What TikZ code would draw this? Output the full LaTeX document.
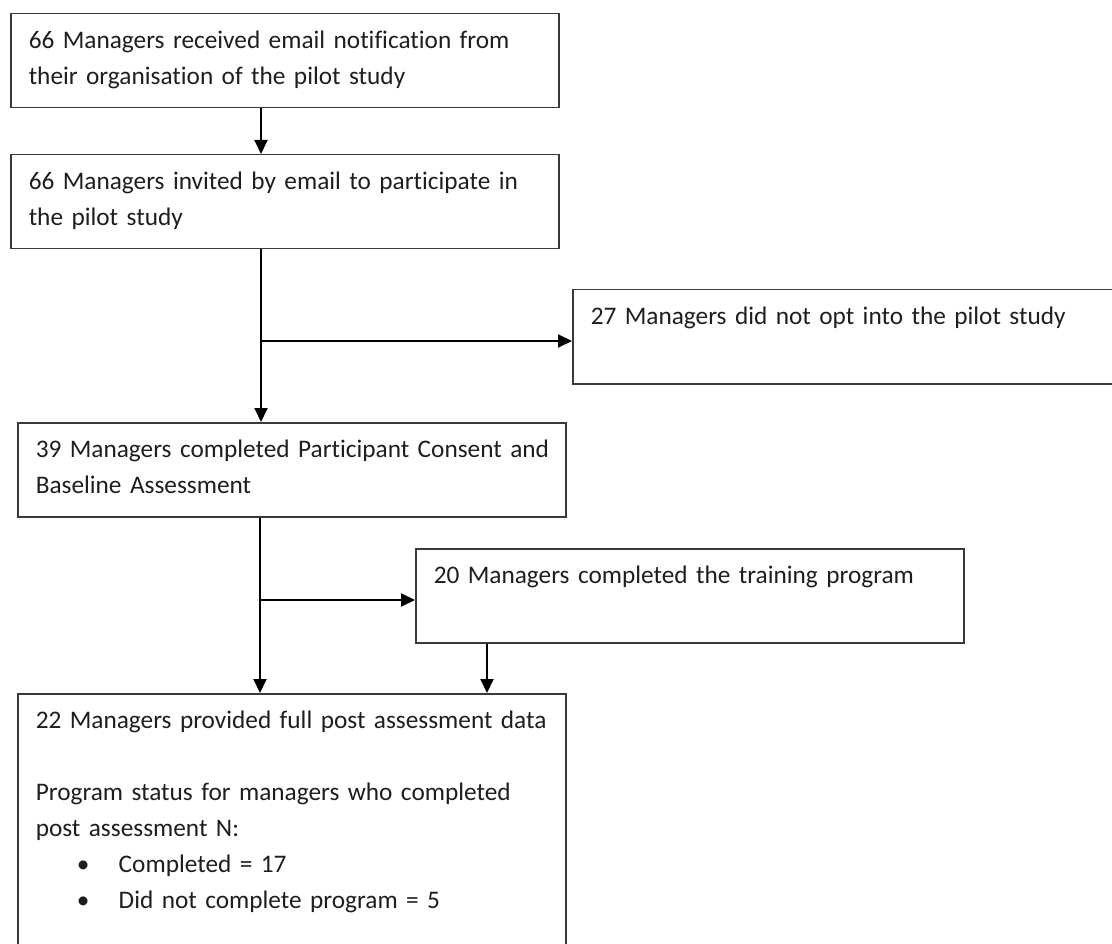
\documentclass[tikz,border=0pt]{standalone}
\usepackage{fontspec}
\setmainfont{Carlito}[Ligatures=NoCommon, WordSpace=0.85]
\usetikzlibrary{arrows.meta}
\definecolor{ink}{HTML}{1E1E1E}
\definecolor{edge}{HTML}{3A3A3A}
\newcommand{\bul}{\hspace*{41pt}\makebox[42pt][l]{•}}

\begin{document}
\begin{tikzpicture}[
  x=1pt, y=-1pt,
  font=\fontsize{25.3}{36}\selectfont,
  every node/.style={text=ink},
  box/.style={draw=edge, line width=1.5pt, anchor=north west, align=left,
              inner xsep=18pt, inner ysep=0pt, text width=512pt,
              text height=35pt, text depth=59pt},
  tallbox/.style={box, text depth=224pt},
  arr/.style={-{Triangle[length=14pt, width=13pt]}, line width=2pt, draw=black},
]
\useasboundingbox (0,0) rectangle (1112,944);
\node[box] (notif) at (10,13) {66 Managers received email notification from\\their organisation of the pilot study};
\node[box] (invite) at (10,154) {66 Managers invited by email to participate in\\the pilot study};
\node[box] (optout) at (572,289) {27 Managers did not opt into the pilot study};
\node[box] (consent) at (17,422) {\mbox{39 Managers completed Participant Consent and}\\Baseline Assessment};
\node[box] (train) at (415,548) {20 Managers completed the training program};
\node[tallbox] (post) at (17,693) {22 Managers provided full post assessment data\\[36pt]Program status for managers who completed\\post assessment N:\\\bul Completed = 17\\\bul Did not complete program = 5};
\coordinate (spine) at (261,0);
\coordinate (spineb) at (260,0);
\coordinate (drop) at (487,0);
\coordinate (fork1) at (261,341);
\coordinate (fork2) at (260,600);
\draw[arr] (notif.south -| spine) -- (invite.north -| spine);
\draw[arr] (invite.south -| spine) -- (consent.north -| spine);
\draw[arr] (fork1) -- (fork1 -| optout.west);
\draw[arr] (consent.south -| spineb) -- (post.north -| spineb);
\draw[arr] (fork2) -- (fork2 -| train.west);
\draw[arr] (train.south -| drop) -- (post.north -| drop);
\end{tikzpicture}
\end{document}
